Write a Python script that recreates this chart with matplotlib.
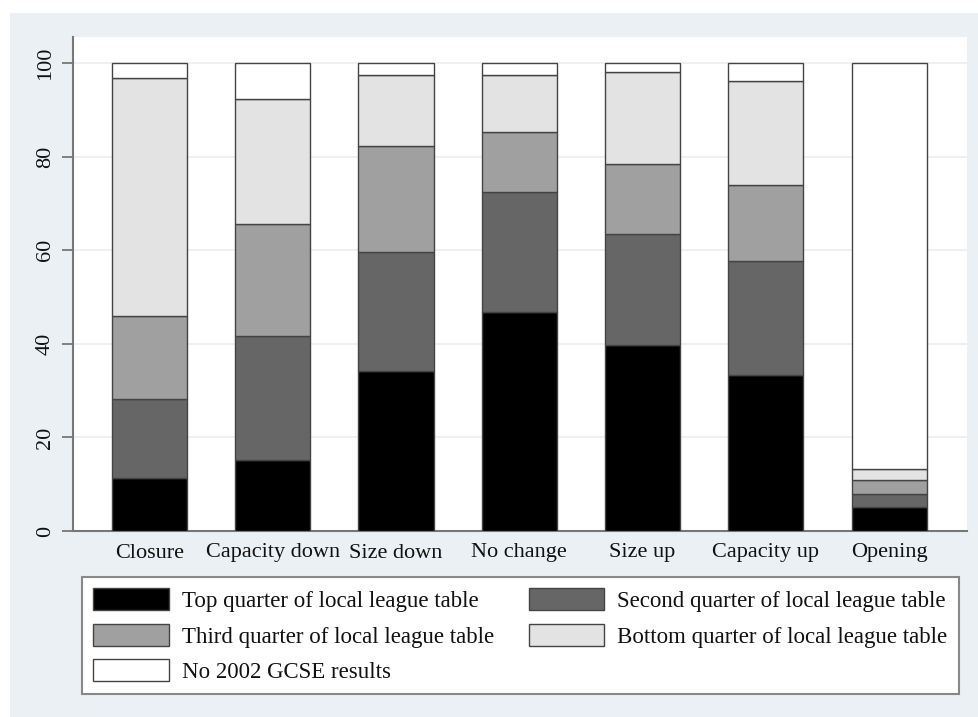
import matplotlib
matplotlib.use("Agg")
import matplotlib.pyplot as plt
from matplotlib.patches import Rectangle
import numpy as np

# school change categories along the x axis
categories = ["Closure", "Capacity down", "Size down", "No change",
              "Size up", "Capacity up", "Opening"]

# percentage shares, bottom to top of each stacked bar
top_quarter = [11.4, 15.2, 34.2, 46.9, 39.7, 33.3, 5.1]
second_quarter = [16.7, 26.5, 25.4, 25.6, 23.7, 24.5, 2.7]
third_quarter = [17.8, 24.0, 22.7, 12.7, 15.0, 16.1, 3.2]
bottom_quarter = [51.0, 26.6, 15.1, 12.2, 19.6, 22.3, 2.2]
no_gcse = [3.1, 7.7, 2.6, 2.6, 2.0, 3.8, 86.8]

series_labels = ["Top quarter of local league table",
                 "Second quarter of local league table",
                 "Third quarter of local league table",
                 "Bottom quarter of local league table",
                 "No 2002 GCSE results"]
yticks = [0, 20, 40, 60, 80, 100]

series = [top_quarter, second_quarter, third_quarter, bottom_quarter, no_gcse]
fills = ["#000000", "#666666", "#a0a0a0", "#e3e3e3", "#ffffff"]

plt.rcParams["font.family"] = ["Liberation Serif", "DejaVu Serif"]

W, H = 979, 717
fig = plt.figure(figsize=(W / 100, H / 100), dpi=100, facecolor="white")

# light graph region behind everything
fig.patches.append(Rectangle((10 / W, 0), 1 - 10 / W, 1 - 13 / H,
                             transform=fig.transFigure, facecolor="#eaf0f3",
                             edgecolor="none", zorder=-10))

ax = fig.add_axes([73 / W, 1 - 531 / H, 894 / W, 494 / H])
ax.set_facecolor("white")

x = np.arange(len(categories))
bottom = np.zeros(len(categories))
handles = []
for vals, col, lab in zip(series, fills, series_labels):
    b = ax.bar(x, vals, width=0.61, bottom=bottom, color=col,
               edgecolor="#444444", linewidth=1.0, label=lab, zorder=3)
    handles.append(b)
    bottom += np.array(vals)

ax.set_xlim(-0.621, 6.632)
ax.set_ylim(0, 105.56)

ax.set_yticks(yticks)
ax.set_yticklabels([str(t) for t in yticks], rotation=90, va="center",
                   fontsize=16, color="#111111")
for t in yticks:
    ax.axhline(t, color="#ebeef0", linewidth=1.2, zorder=1)

ax.set_xticks(x)
ax.set_xticklabels(categories, fontsize=16, color="#111111")
ax.tick_params(axis="x", length=0, pad=9)
ax.tick_params(axis="y", length=8, width=1.3, color="#777777", pad=5)

for s in ["top", "right"]:
    ax.spines[s].set_visible(False)
for s in ["left", "bottom"]:
    ax.spines[s].set_color("#777777")
    ax.spines[s].set_linewidth(1.5)

# legend filled row by row: two columns
order = [0, 2, 4, 1, 3]
leg = fig.legend([handles[i] for i in order], [series_labels[i] for i in order],
                 ncol=2, loc="upper left",
                 bbox_to_anchor=(82 / W, 1 - 695 / H, 877 / W, 118 / H),
                 mode="expand", borderaxespad=0, fontsize=16.5,
                 handlelength=3.3, handleheight=1.1, handletextpad=0.57,
                 labelspacing=0.5, columnspacing=1.2, borderpad=0.5,
                 fancybox=False, frameon=True)
leg.get_frame().set_edgecolor("#888888")
leg.get_frame().set_linewidth(1.5)
leg.get_frame().set_facecolor("white")
leg.get_frame().set_alpha(1)
for t in leg.get_texts():
    t.set_color("#111111")

fig.savefig("out.png", dpi=100, facecolor="white")
